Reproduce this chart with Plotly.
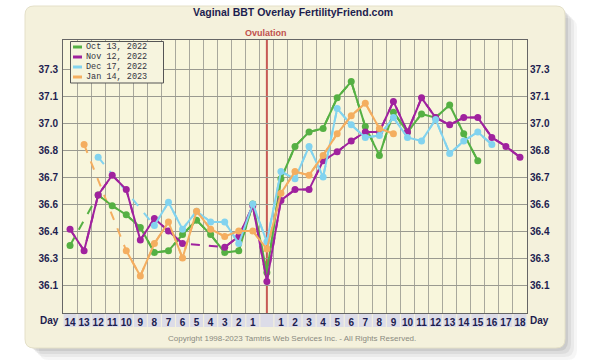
import plotly.graph_objects as go

# ---------------- data ----------------
day_labels = [str(d) for d in range(14, 0, -1)] + [""] + [str(d) for d in range(1, 19)]
positions = list(range(len(day_labels)))

series_names = ["Oct 13, 2022", "Nov 12, 2022", "Dec 17, 2022", "Jan 14, 2023"]
series_colors = ["#55b043", "#a0229e", "#82d3ef", "#f4ae60"]

oct_13 = [36.32, None, 36.60, 36.54, 36.49, 36.42, 36.28, 36.29, 36.38, 36.46, 36.38, 36.28, 36.29, 36.55,
          36.17,
          36.69, 36.87, 36.95, 36.97, 37.14, 37.23, 36.98, 36.82, 37.06, 36.95, 37.05, 37.03, 37.10, 36.94, 36.79,
          None, None, None]
nov_12 = [36.41, 36.29, 36.60, 36.71, 36.63, 36.35, 36.47, 36.40, 36.33, None, None, 36.31, 36.37, 36.54,
          36.12,
          36.57, 36.63, 36.63, 36.79, 36.84, 36.90, 36.95, 36.95, 37.12, 36.95, 37.14, 37.03, 36.99, 37.03, 37.03,
          36.92, 36.87, 36.81]
dec_17 = [None, None, 36.81, None, None, None, 36.43, 36.56, 36.41, 36.51, 36.45, 36.45, 36.33, 36.55,
          36.34,
          36.73, 36.69, 36.87, 36.70, 37.08, 36.99, 36.92, 36.93, 37.03, 36.92, 36.90, 37.02, 36.83, 36.90, 36.95,
          36.88, None, None]
jan_14 = [None, 36.88, None, None, 36.29, 36.15, 36.33, 36.45, 36.25, 36.51, 36.41, 36.37, 36.40, 36.40,
          36.30,
          36.61, 36.73, 36.71, 36.82, 36.94, 37.04, 37.11, 36.97, 36.94, None, None, None, None, None, None,
          None, None, None]
series_values = [oct_13, nov_12, dec_17, jan_14]

y_tickvals = [37.3, 37.15, 37.0, 36.85, 36.7, 36.55, 36.4, 36.25, 36.1]
y_ticktext = ["37.3", "37.1", "37.0", "36.8", "36.7", "36.6", "36.4", "36.3", "36.1"]
ovulation_pos = 14

title_text = "Vaginal BBT Overlay FertilityFriend.com"
copyright_text = "Copyright 1998-2023 Tamtris Web Services Inc. - All Rights Reserved."

# ---------------- layout geometry (pixels) ----------------
W, H = 600, 361
L, R, T, B = 63, 527, 40, 313
PW, PH = R - L, B - T


def px(p):
    return (p - L) / PW


def py(p):
    return (B - p) / PH


def rrect(x0, y0, x1, y1, r):
    a, b, c, d = px(x0), px(x1), py(y0), py(y1)
    rx, ry = r / PW, r / PH
    return (f"M {a+rx},{c} L {b-rx},{c} Q {b},{c} {b},{c-ry} L {b},{d+ry} Q {b},{d} {b-rx},{d} "
            f"L {a+rx},{d} Q {a},{d} {a},{d+ry} L {a},{c-ry} Q {a},{c} {a+rx},{c} Z")


NAVY = "#1d1d4f"
fig = go.Figure()

# dashed connectors for skipped days (drawn underneath)
for name, vals, col in zip(series_names, series_values, series_colors):
    fig.add_trace(go.Scatter(x=positions, y=vals, mode="lines", connectgaps=True,
                             line=dict(color=col, width=2, dash="dash"),
                             showlegend=False, hoverinfo="skip"))
# solid lines with markers
for name, vals, col in zip(series_names, series_values, series_colors):
    fig.add_trace(go.Scatter(x=positions, y=vals, mode="lines+markers", connectgaps=False, name=name,
                             line=dict(color=col, width=2), marker=dict(color=col, size=7),
                             showlegend=False))
# dummy trace for right-hand axis
fig.add_trace(go.Scatter(x=[None], y=[None], yaxis="y2", showlegend=False, hoverinfo="skip"))

shapes = []
# panel shadow
for k, op in [(12, 0.05), (9, 0.07), (6, 0.09), (3, 0.12)]:
    shapes.append(dict(type="path", path=rrect(25 + k + 2, 6 + k, 565 + k, 348 + k, 10),
                       xref="paper", yref="paper", fillcolor="#555555", opacity=op,
                       line=dict(width=0), layer="below"))
# cream panel
shapes.append(dict(type="path", path=rrect(25, 6, 565, 348, 9), xref="paper", yref="paper",
                   fillcolor="#f4f1dc", line=dict(color="#e4e0c8", width=1), layer="below"))
# plot area
shapes.append(dict(type="rect", x0=0, x1=1, y0=0, y1=1, xref="paper", yref="paper",
                   fillcolor="#f8f6dc", line=dict(width=0), layer="below"))
# ovulation line
shapes.append(dict(type="line", x0=ovulation_pos, x1=ovulation_pos, y0=0, y1=1, xref="x", yref="paper",
                   line=dict(color="#c65a55", width=2), layer="below"))
# day label boxes
for p in positions:
    shapes.append(dict(type="rect", x0=p - 0.46, x1=p + 0.46, y0=py(327), y1=py(313.5),
                       xref="x", yref="paper", fillcolor="#dcdce8", line=dict(width=0), layer="below"))

# legend box
shapes.append(dict(type="rect", x0=px(70.5), x1=px(163.5), y0=py(83), y1=py(41.5), xref="paper", yref="paper",
                   fillcolor="#f6f4de", line=dict(color="#555555", width=1), layer="above"))
annotations = []
leg_y = [47, 57, 67, 77]
for name, col, yy in zip(series_names, series_colors, leg_y):
    shapes.append(dict(type="line", x0=px(73), x1=px(82), y0=py(yy), y1=py(yy), xref="paper", yref="paper",
                       line=dict(color=col, width=3), layer="above"))
    annotations.append(dict(text=name, x=px(85), y=py(yy), xref="paper", yref="paper", xanchor="left",
                            yanchor="middle", showarrow=False, borderpad=0,
                            font=dict(family="Liberation Mono", size=8.5, color="#333340")))

annotations += [
    dict(text="<b>" + title_text + "</b>", x=px(293), y=py(12), xref="paper", yref="paper", showarrow=False,
         xanchor="center", yanchor="middle", font=dict(family="Liberation Sans", size=10.5, color=NAVY)),
    dict(text="<b>Ovulation</b>", x=px(266), y=py(33), xref="paper", yref="paper", showarrow=False,
         xanchor="center", yanchor="middle", font=dict(family="Liberation Sans", size=9, color="#c0504d")),
    dict(text="<b>Day</b>", x=px(61), y=py(320.5), xref="paper", yref="paper", showarrow=False,
         xanchor="right", yanchor="middle", font=dict(family="Liberation Sans", size=10, color=NAVY)),
    dict(text="<b>Day</b>", x=px(528), y=py(320.5), xref="paper", yref="paper", showarrow=False,
         xanchor="left", yanchor="middle", font=dict(family="Liberation Sans", size=10, color=NAVY)),
    dict(text=copyright_text, x=px(292), y=py(338), xref="paper", yref="paper", showarrow=False,
         xanchor="center", yanchor="middle", font=dict(family="Liberation Sans", size=8, color="#8a8a80")),
]

yrange = [37.0 - (B - 123) / 180.0, 37.0 + (123 - T) / 180.0]
axis_font = dict(family="Liberation Sans", size=10, color=NAVY)

fig.update_layout(
    width=W, height=H,
    margin=dict(l=L, r=W - R, t=T, b=H - B, pad=0),
    paper_bgcolor="white", plot_bgcolor="rgba(0,0,0,0)",
    showlegend=False,
    shapes=shapes, annotations=annotations,
    xaxis=dict(range=[-0.5, len(positions) - 0.5], tickmode="array", tickvals=positions,
               ticktext=["<b>" + t + "</b>" for t in day_labels], ticks="", showgrid=False,
               zeroline=False, showline=True, linecolor="#666666", mirror=True,
               tickfont=axis_font, ticklabelstandoff=0,
               minor=dict(tickmode="linear", tick0=-0.5, dtick=1, showgrid=True,
                          gridcolor="#a8a89c", gridwidth=1, ticks="")),
    yaxis=dict(range=yrange, tickmode="array", tickvals=y_tickvals,
               ticktext=["<b>" + t + "</b>" for t in y_ticktext], ticks="", showgrid=True,
               gridcolor="#9a9a90", gridwidth=1, zeroline=False, showline=True, linecolor="#666666",
               mirror=True, tickfont=axis_font, ticklabelstandoff=2),
    yaxis2=dict(range=yrange, overlaying="y", side="right", tickmode="array", tickvals=y_tickvals,
                ticktext=["<b>" + t + "</b>" for t in y_ticktext], ticks="", showgrid=False,
                zeroline=False, showline=False, tickfont=axis_font, ticklabelstandoff=2),
)

fig.write_html("out.html", config={"displayModeBar": False},
               post_script="document.body.style.margin='0px';")
